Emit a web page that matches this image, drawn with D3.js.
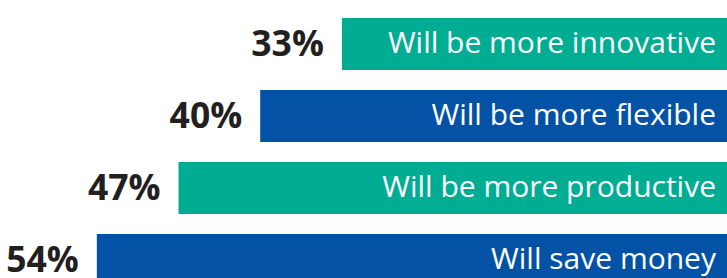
<!DOCTYPE html>
<html>
<head>
<meta charset="utf-8">
<script src="https://cdn.jsdelivr.net/npm/d3@7"></script>
<style>
  body { margin: 0; background: #fff; overflow: hidden; }
  svg { display: block; }
</style>
</head>
<body>
<div id="chart"></div>
<script>
var width = 727,
    height = 278;

// data
var categories = ["Will be more innovative", "Will be more flexible", "Will be more productive", "Will save money"];
var values = [33, 40, 47, 54];
var colors = ["#00ad93", "#0352a6", "#00ad93", "#0352a6"];

var svg = d3.select("#chart").append("svg")
    .attr("width", width)
    .attr("height", height);

// bars grow leftwards from the right edge
var x = d3.scaleLinear()
    .domain([0, 100])
    .range([width, width - 1167]);

var y = d3.scaleBand()
    .domain(categories)
    .range([18, 286])
    .paddingInner(20 / 72)
    .paddingOuter(0);

var rows = svg.selectAll("g.row")
    .data(categories)
    .enter().append("g")
    .attr("class", "row")
    .attr("transform", function(d) { return "translate(0," + y(d) + ")"; });

rows.append("rect")
    .attr("x", function(d, i) { return x(values[i]); })
    .attr("y", 0)
    .attr("width", function(d, i) { return width - x(values[i]); })
    .attr("height", y.bandwidth())
    .style("fill", function(d, i) { return colors[i]; });

// category label inside bar
rows.append("text")
    .attr("x", width - 11)
    .attr("y", 35)
    .attr("text-anchor", "end")
    .style("font-family", "'Open Sans', sans-serif")
    .style("font-size", "30px")
    .style("fill", "#fff")
    .text(function(d) { return d; });

// percent label left of bar
rows.append("text")
    .attr("x", function(d, i) { return x(values[i]) - 18; })
    .attr("y", 38)
    .attr("text-anchor", "end")
    .style("font-family", "'Open Sans', sans-serif")
    .style("font-size", "35.5px")
    .style("font-weight", "bold")
    .style("fill", "#231f20")
    .text(function(d, i) { return values[i] + "%"; });
</script>
</body>
</html>
